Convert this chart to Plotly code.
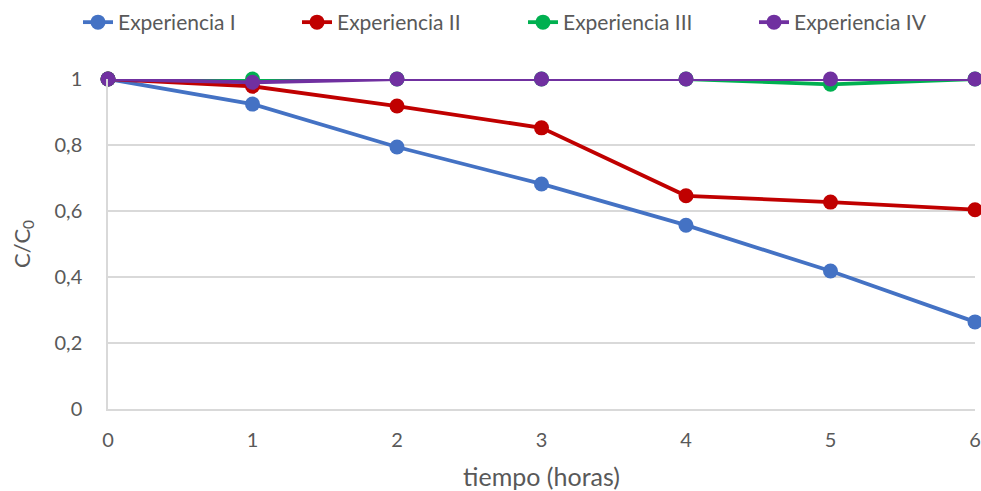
import plotly.graph_objects as go

# Time in hours and normalized concentration C/C0 for each run
tiempo = [0, 1, 2, 3, 4, 5, 6]
exp_i = [1.0, 0.924, 0.794, 0.682, 0.557, 0.418, 0.264]
exp_ii = [1.0, 0.978, 0.918, 0.852, 0.646, 0.627, 0.604]
exp_iii = [1.0, 1.0, 1.0, 1.0, 1.0, 0.984, 1.0]
exp_iv = [1.0, 0.99, 1.0, 1.0, 1.0, 1.0, 1.0]

series_names = ["Experiencia I", "Experiencia II", "Experiencia III", "Experiencia IV"]
series_colors = ["#4472C4", "#C00000", "#00B050", "#7030A0"]
legend_widths = [174, 181, 186, 150]

y_tickvals = [0, 0.2, 0.4, 0.6, 0.8, 1]
y_ticktext = ["0", "0,2", "0,4", "0,6", "0,8", "1"]
x_tickvals = [0, 1, 2, 3, 4, 5, 6]

FONT = "Lato"
TEXT_COLOR = "#595959"
GRID_COLOR = "#D9D9D9"

fig = go.Figure()
for name, vals, color, lw in zip(series_names, [exp_i, exp_ii, exp_iii, exp_iv],
                                 series_colors, legend_widths):
    fig.add_trace(go.Scatter(
        x=tiempo, y=vals, name=name, mode="lines+markers",
        line=dict(color=color, width=3.8),
        marker=dict(color=color, size=15),
        cliponaxis=False,
        legendwidth=lw,
    ))

fig.update_layout(
    width=981, height=491,
    margin=dict(l=108, r=6, t=79, b=82, autoexpand=False),
    paper_bgcolor="white", plot_bgcolor="white",
    font=dict(family=FONT, size=20, color=TEXT_COLOR),
    showlegend=True,
    legend=dict(
        orientation="h", xref="container", yref="container",
        x=78 / 981, xanchor="left", y=1 - 2 / 491, yanchor="top",
        font=dict(size=21, color=TEXT_COLOR),
        itemwidth=30, traceorder="normal",
    ),
)

fig.update_xaxes(
    range=[0, 6], tickvals=x_tickvals, showgrid=False, zeroline=False,
    showline=True, linecolor=GRID_COLOR, linewidth=1.5, ticks="",
    tickfont=dict(size=20, color=TEXT_COLOR), ticklabelstandoff=12,
    title=dict(text="tiempo (horas)", font=dict(size=25, color=TEXT_COLOR), standoff=22),
)
fig.update_yaxes(
    range=[0, 1], tickvals=y_tickvals, ticktext=y_ticktext,
    showgrid=True, gridcolor=GRID_COLOR, gridwidth=1.5, zeroline=False,
    showline=True, linecolor=GRID_COLOR, linewidth=1.5, ticks="",
    tickfont=dict(size=20, color=TEXT_COLOR), ticklabelstandoff=20,
    title=dict(text="C/C<sub>0</sub>", font=dict(size=22, color=TEXT_COLOR), standoff=18),
)

fig.write_html("out.html")
